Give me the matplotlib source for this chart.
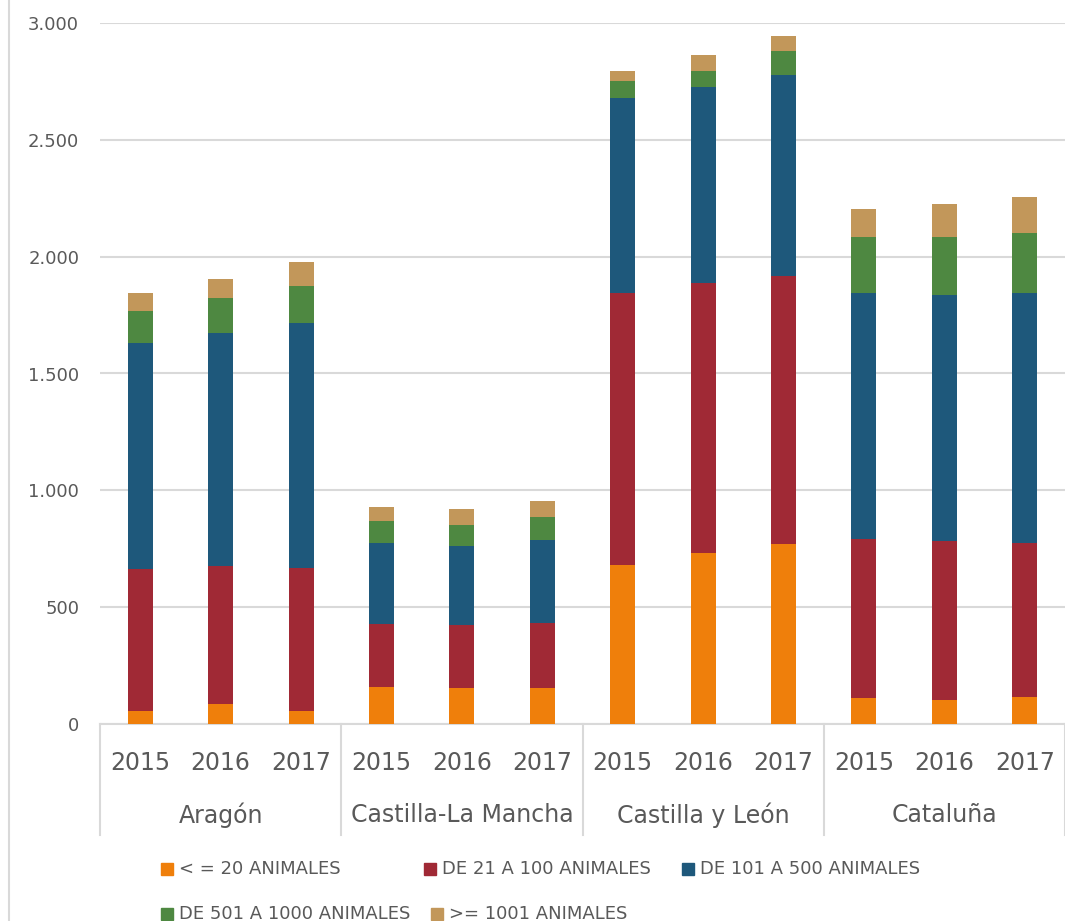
import numpy as np
import matplotlib.pyplot as plt
from matplotlib.patches import Rectangle
from matplotlib.lines import Line2D
from matplotlib.ticker import FuncFormatter

plt.rcParams['font.family'] = ['DejaVu Sans']

regiones = ["Aragón", "Castilla-La Mancha", "Castilla y León", "Cataluña"]
anios = ["2015", "2016", "2017"]

series = ["< = 20 ANIMALES", "DE 21 A 100 ANIMALES", "DE 101 A 500 ANIMALES",
          "DE 501 A 1000 ANIMALES", ">= 1001 ANIMALES"]
colores = ["#EF7F0B", "#A02935", "#1E587B", "#4E8841", "#C2975A"]

# número de explotaciones por tramo, 3 años por comunidad
hasta_20 = [55, 85, 55, 160, 155, 155, 680, 732, 770, 111, 103, 116]
de_21_100 = [608, 591, 613, 268, 269, 277, 1164, 1155, 1147, 681, 680, 658]
de_101_500 = [967, 997, 1048, 348, 339, 355, 833, 839, 860, 1051, 1053, 1069]
de_501_1000 = [137, 150, 158, 93, 89, 100, 74, 68, 103, 241, 248, 260]
mas_1001 = [77, 81, 103, 58, 68, 68, 43, 69, 65, 120, 141, 153]

valores = [hasta_20, de_21_100, de_101_500, de_501_1000, mas_1001]

GRIS_TXT = "#595959"
GRIS_LIN = "#D9D9D9"

fig = plt.figure(figsize=(10.65, 9.21), dpi=100)
ax = fig.add_axes([100 / 1065, 1 - 724 / 921, 965 / 1065, 701 / 921])

x = np.arange(len(hasta_20))
base = np.zeros(len(x))
for vals, col in zip(valores, colores):
    ax.bar(x, vals, width=0.31, bottom=base, color=col, zorder=3)
    base += np.array(vals)

ax.set_xlim(-0.5, len(x) - 0.5)
ax.set_ylim(0, 3000)
ax.set_yticks(np.arange(0, 3001, 500))
ax.yaxis.set_major_formatter(FuncFormatter(lambda v, p: f"{int(v):,}".replace(",", ".")))
ax.tick_params(axis="y", length=0, pad=15, labelsize=13, labelcolor=GRIS_TXT)
ax.grid(axis="y", color=GRIS_LIN, linewidth=1.5, zorder=0)
for s in ["top", "right", "left"]:
    ax.spines[s].set_visible(False)
ax.spines["bottom"].set_color(GRIS_LIN)
ax.spines["bottom"].set_linewidth(1.5)

# etiquetas de dos niveles en el eje x
ax.set_xticks([])
trans = ax.get_xaxis_transform()
for i in x:
    ax.text(i, -0.055, anios[i % 3], transform=trans, ha="center", va="center",
            fontsize=17, color=GRIS_TXT)
for g, reg in enumerate(regiones):
    ax.text(g * 3 + 1, -0.13, reg, transform=trans, ha="center", va="center",
            fontsize=17, color=GRIS_TXT)
for sep in np.arange(-0.5, len(x), 3):
    ax.add_line(Line2D([sep, sep], [0, -0.158], transform=trans, color=GRIS_LIN,
                       linewidth=1.5, clip_on=False))

# leyenda colocada a mano en dos filas
pos_leyenda = [(167, 869), (430, 869), (688, 869), (167, 914), (437, 914)]
for (px, py), nombre, col in zip(pos_leyenda, series, colores):
    fig.patches.append(Rectangle(((px - 6) / 1065, 1 - (py + 6) / 921), 12 / 1065, 12 / 921,
                                 transform=fig.transFigure, color=col))
    fig.text((px + 12) / 1065, 1 - py / 921, nombre, ha="left", va="center",
             fontsize=13, color=GRIS_TXT)

# borde izquierdo del área del gráfico
fig.add_artist(Line2D([9 / 1065, 9 / 1065], [0, 1], transform=fig.transFigure,
                      color=GRIS_LIN, linewidth=1.5))

fig.savefig("out.png", dpi=100)
